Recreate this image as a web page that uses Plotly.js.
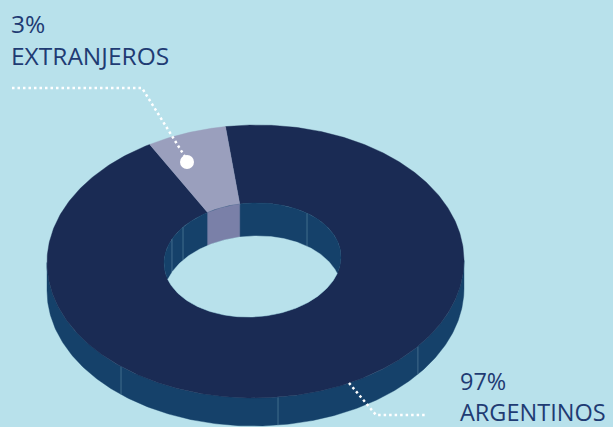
<!DOCTYPE html>
<html><head><meta charset="utf-8">
<script src="https://cdn.plot.ly/plotly-3.0.1.min.js"></script>
<style>html,body{margin:0;padding:0;background:#b8e1eb}#c{width:613px;height:427px}</style>
</head><body><div id="c"></div>
<script>
// --- data ---
const categories = ["EXTRANJEROS", "ARGENTINOS"];
const percentLabels = ["3%", "97%"];
const drawnShare = [6.17, 93.83];    // share of the ring as actually drawn
const startAngle = -30.5;            // degrees clockwise from top
const outerSeams = [-0.645, 0.108, 0.779];   // relative x position of wall seams
const innerSeams = [-0.91, -0.785, 0.616];

// --- styles & geometry of the drawing ---
const colors = {bg:"#b8e1eb", top:["#9a9fbd","#1a2b54"], wall:["#7a80a8","#15416a"], seam:"#4d7795", text:"#1f3b73"};
const outer = {cx:255.5, cy:261.5, a:208.5, b:136.5, d:28, k:-0.005};
const inner = {cx:252.5, cy:260, a:88.5, b:57, d:33, k:-0.035};
const rad = Math.PI/180;
function pt(e,t,dz){ const s=Math.sin(t*rad),c=Math.cos(t*rad);
  return [e.cx+e.a*s, e.cy-e.b*c+e.k*e.a*s+(dz||0)]; }
function arc(e,t0,t1,dz){ const n=Math.max(2,Math.ceil(Math.abs(t1-t0)*1.5)),o=[];
  for(let i=0;i<=n;i++) o.push(pt(e,t0+(t1-t0)*i/n,dz)); return o; }
function poly(points,color,name){ const p=points.concat([points[0]]);
  return {x:p.map(q=>q[0]),y:p.map(q=>q[1]),mode:"lines",fill:"toself",fillcolor:color,
    line:{color:color,width:0.4},name:name||"",hoverinfo:name?"name":"skip",showlegend:false}; }
function line(points,color,width){
  return {x:points.map(q=>q[0]),y:points.map(q=>q[1]),mode:"lines",
    line:{color:color,width:width},hoverinfo:"skip",showlegend:false}; }

const span = drawnShare.map(v=>v/100*360);
const sectors = [[startAngle,startAngle+span[0]],[startAngle+span[0],startAngle+span[0]+span[1]]];
const traces = [];
// outer wall (front half)
traces.push(poly(arc(outer,90,270,0).concat(arc(outer,270,90,outer.d)),colors.wall[1]));
outerSeams.forEach(f=>{ const t=180-Math.asin(f)/rad;
  traces.push(line([pt(outer,t,0),pt(outer,t,outer.d)],colors.seam,0.8)); });
// top face sectors
[1,0].forEach(i=>{ const [a,b]=sectors[i];
  traces.push(poly(arc(outer,a,b).concat(arc(inner,b,a)),colors.top[i],categories[i]+" "+percentLabels[i])); });
// hole: inner wall, then the see-through part
traces.push(poly(arc(inner,0,360),colors.wall[1]));
traces.push(poly(arc(inner,sectors[0][0],sectors[0][1]).concat(arc(inner,sectors[0][1],sectors[0][0],inner.d)),colors.wall[0]));
innerSeams.forEach(f=>{ const t=Math.asin(f)/rad;
  traces.push(line([pt(inner,t,0),pt(inner,t,inner.d)],colors.seam,0.8)); });
const cross = Math.asin(inner.d/2/inner.b)/rad;   // where the two rims meet
traces.push(poly(arc(inner,90+cross,270-cross).concat(arc(inner,-(90-cross),90-cross,inner.d)),colors.bg));
// leader lines
const leaderA = {x:[12,142,187], y:[88,88,160]};
const leaderB = {x:[349,376,426], y:[383,415,415]};
[leaderA,leaderB].forEach(l=>traces.push({x:l.x,y:l.y,mode:"lines",line:{color:"#ffffff",width:2.5,dash:"2.5px,3px"},hoverinfo:"skip",showlegend:false}));
traces.push({x:[187],y:[162],mode:"markers",marker:{color:"#ffffff",size:14},hoverinfo:"skip",showlegend:false});

const font = s=>({family:"'Open Sans', sans-serif",size:s,color:colors.text});
function note(text,x,y,s){ return {text:text,x:x,y:y,xref:"x",yref:"y",xanchor:"left",yanchor:"middle",showarrow:false,font:font(s)}; }
const layout = {
  width:613,height:427,margin:{l:0,r:0,t:0,b:0},paper_bgcolor:colors.bg,plot_bgcolor:colors.bg,showlegend:false,
  xaxis:{range:[0,613],visible:false,fixedrange:true},
  yaxis:{range:[427,0],visible:false,fixedrange:true},
  annotations:[
    note(percentLabels[0],9,23,24.5), note(categories[0],9,55,24.5),
    note(percentLabels[1],458,380.5,23.5), note(categories[1],458,412,23.5)
  ]
};
Plotly.newPlot("c",traces,layout,{displayModeBar:false,staticPlot:true});
</script></body></html>
